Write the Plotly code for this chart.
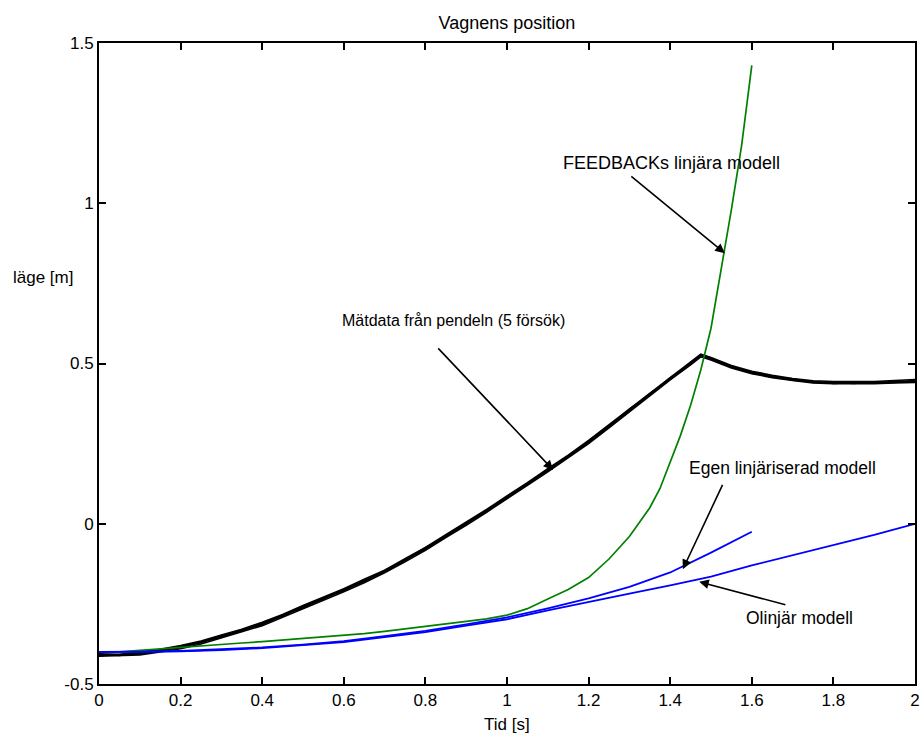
import plotly.graph_objects as go

# ---- data ----
t_meas = [0, 0.05, 0.1, 0.15, 0.2, 0.25, 0.3, 0.35, 0.4, 0.45, 0.5, 0.55, 0.6, 0.65,
          0.7, 0.75, 0.8, 0.85, 0.9, 0.95, 1.0, 1.05, 1.1, 1.15, 1.2, 1.25, 1.3, 1.35,
          1.4, 1.45, 1.475, 1.5, 1.55, 1.6, 1.65, 1.7, 1.75, 1.8, 1.85, 1.9, 1.95, 2.0]
trial1 = [-0.410, -0.410, -0.405, -0.396, -0.385, -0.370, -0.352, -0.333, -0.313, -0.287,
          -0.260, -0.234, -0.207, -0.179, -0.149, -0.114, -0.078, -0.039, 0.000, 0.041,
          0.082, 0.124, 0.167, 0.210, 0.255, 0.304, 0.355, 0.404, 0.453, 0.500,
          0.525, 0.515, 0.490, 0.472, 0.460, 0.450, 0.442, 0.440, 0.439, 0.440,
          0.442, 0.445]
trial2 = [-0.406, -0.407, -0.400, -0.392, -0.380, -0.366, -0.347, -0.329, -0.307, -0.283,
          -0.255, -0.229, -0.203, -0.173, -0.145, -0.109, -0.074, -0.034, 0.005, 0.045,
          0.087, 0.128, 0.172, 0.214, 0.260, 0.309, 0.359, 0.409, 0.457, 0.505,
          0.529, 0.519, 0.494, 0.476, 0.463, 0.453, 0.446, 0.444, 0.443, 0.444,
          0.447, 0.450]
trial3 = [-0.413, -0.412, -0.409, -0.400, -0.390, -0.375, -0.357, -0.337, -0.318, -0.292,
          -0.265, -0.238, -0.212, -0.184, -0.153, -0.119, -0.083, -0.043, -0.005, 0.036,
          0.077, 0.120, 0.162, 0.205, 0.250, 0.299, 0.350, 0.399, 0.449, 0.496,
          0.521, 0.511, 0.486, 0.468, 0.456, 0.447, 0.439, 0.437, 0.436, 0.437,
          0.439, 0.441]
trial4 = [-0.408, -0.411, -0.403, -0.397, -0.382, -0.371, -0.349, -0.334, -0.310, -0.288,
          -0.257, -0.235, -0.204, -0.180, -0.146, -0.115, -0.075, -0.040, 0.003, 0.040,
          0.085, 0.123, 0.170, 0.209, 0.258, 0.303, 0.358, 0.403, 0.456, 0.499,
          0.527, 0.517, 0.488, 0.474, 0.458, 0.452, 0.441, 0.442, 0.438, 0.442,
          0.441, 0.447]
trial5 = [-0.411, -0.408, -0.406, -0.394, -0.387, -0.368, -0.354, -0.331, -0.315, -0.285,
          -0.262, -0.232, -0.209, -0.177, -0.151, -0.112, -0.080, -0.037, -0.002, 0.043,
          0.080, 0.126, 0.165, 0.212, 0.253, 0.306, 0.353, 0.406, 0.451, 0.502,
          0.523, 0.513, 0.492, 0.470, 0.461, 0.448, 0.444, 0.438, 0.440, 0.439,
          0.444, 0.443]

t_fb = [0, 0.05, 0.1, 0.15, 0.2, 0.25, 0.3, 0.35, 0.4, 0.45, 0.5, 0.55, 0.6, 0.65,
        0.7, 0.75, 0.8, 0.85, 0.9, 0.95, 1.0, 1.05, 1.1, 1.15, 1.2, 1.25, 1.3,
        1.35, 1.375, 1.4, 1.425, 1.45, 1.475, 1.5, 1.525, 1.55, 1.575, 1.6]
y_fb = [-0.400, -0.400, -0.395, -0.390, -0.385, -0.380, -0.375, -0.372, -0.368, -0.363,
        -0.358, -0.354, -0.350, -0.343, -0.336, -0.328, -0.320, -0.312, -0.305, -0.297,
        -0.285, -0.265, -0.235, -0.205, -0.168, -0.110, -0.040, 0.050, 0.110, 0.190,
        0.275, 0.370, 0.480, 0.610, 0.790, 0.980, 1.180, 1.430]

t_egen = [0, 0.1, 0.2, 0.3, 0.4, 0.5, 0.6, 0.7, 0.8, 0.9, 1.0, 1.1, 1.2, 1.3, 1.4, 1.5, 1.6]
y_egen = [-0.400, -0.400, -0.397, -0.392, -0.386, -0.377, -0.366, -0.351, -0.334, -0.314,
          -0.292, -0.264, -0.233, -0.197, -0.152, -0.090, -0.025]

t_olin = [0, 0.1, 0.2, 0.3, 0.4, 0.5, 0.6, 0.7, 0.8, 0.9, 1.0, 1.1, 1.2, 1.3, 1.4,
          1.5, 1.6, 1.7, 1.8, 1.9, 2.0]
y_olin = [-0.400, -0.400, -0.398, -0.394, -0.388, -0.379, -0.369, -0.354, -0.338, -0.318,
          -0.298, -0.270, -0.245, -0.218, -0.192, -0.165, -0.130, -0.098, -0.066, -0.035, 0.0]

x_ticks = [0, 0.2, 0.4, 0.6, 0.8, 1.0, 1.2, 1.4, 1.6, 1.8, 2.0]
x_ticklabels = ["0", "0.2", "0.4", "0.6", "0.8", "1", "1.2", "1.4", "1.6", "1.8", "2"]
y_ticks = [-0.5, 0, 0.5, 1, 1.5]
y_ticklabels = ["-0.5", "0", "0.5", "1", "1.5"]

FONT = "Liberation Sans, Arial, sans-serif"
FS = 17

fig = go.Figure()
for tr in [trial1, trial2, trial3, trial4, trial5]:
    fig.add_trace(go.Scatter(x=t_meas, y=tr, mode="lines",
                             line=dict(color="black", width=1.6), showlegend=False))
fig.add_trace(go.Scatter(x=t_fb, y=y_fb, mode="lines",
                         line=dict(color="#008000", width=1.7), showlegend=False))
fig.add_trace(go.Scatter(x=t_egen, y=y_egen, mode="lines",
                         line=dict(color="#0000ff", width=1.8), showlegend=False))
fig.add_trace(go.Scatter(x=t_olin, y=y_olin, mode="lines",
                         line=dict(color="#0000ff", width=1.8), showlegend=False))

labels = [
    ("Mätdata från pendeln (5 försök)", 0.870, 0.633, 16),
    ("FEEDBACKs linjära modell", 1.402, 1.126, 18),
    ("Egen linjäriserad modell", 1.676, 0.174, 17.5),
    ("Olinjär modell", 1.716, -0.294, 17.5),
]
arrows = [
    (0.828, 0.552, 1.113, 0.168),
    (1.301, 1.088, 1.534, 0.844),
    (1.530, 0.126, 1.431, -0.142),
    (1.686, -0.254, 1.471, -0.181),
]
annotations = []
for txt, x, y, fs in labels:
    annotations.append(dict(x=x, y=y, xref="x", yref="y", text=txt, showarrow=False,
                            xanchor="center", yanchor="middle",
                            font=dict(family=FONT, size=fs, color="black")))
for x0, y0, x1, y1 in arrows:
    annotations.append(dict(x=x1, y=y1, ax=x0, ay=y0, xref="x", yref="y",
                            axref="x", ayref="y", text="", showarrow=True,
                            arrowhead=2, arrowsize=1.2, arrowwidth=1.6,
                            arrowcolor="black", standoff=0, startstandoff=0))
annotations.append(dict(x=0.5, y=0, xref="paper", yref="paper", yshift=-40,
                        text="Tid [s]", showarrow=False, xanchor="center",
                        yanchor="middle", font=dict(family=FONT, size=FS, color="black")))
annotations.append(dict(x=0, y=0.767, xref="paper", yref="y", xshift=-56,
                        text="läge [m]", showarrow=False, xanchor="center",
                        yanchor="middle", font=dict(family=FONT, size=FS, color="black")))

axis_common = dict(showline=True, linecolor="black", linewidth=2, mirror="ticks",
                   ticks="inside", ticklen=7, tickwidth=2, tickcolor="black",
                   showgrid=False, zeroline=False, fixedrange=True, automargin=False,
                   ticklabeloverflow="allow",
                   tickfont=dict(family=FONT, size=FS, color="black"))

fig.update_layout(
    width=922, height=735,
    margin=dict(l=99, r=7, t=43, b=51, autoexpand=False),
    paper_bgcolor="white", plot_bgcolor="white",
    font=dict(family=FONT, size=FS, color="black"),
    title=dict(text="Vagnens position", x=0.5, xref="paper", y=1 - 23 / 735,
               yref="container", xanchor="center", yanchor="middle", automargin=False,
               font=dict(family=FONT, size=18, color="black")),
    annotations=annotations,
    xaxis=dict(range=[0, 2], tickvals=x_ticks, ticktext=x_ticklabels, **axis_common),
    yaxis=dict(range=[-0.5, 1.5], tickvals=y_ticks, ticktext=y_ticklabels, **axis_common),
)

fig.write_html("out.html", config={"displayModeBar": False})

# remove the default page margin so the figure sits at the window's top-left corner
with open("out.html", "r", encoding="utf-8") as f:
    html = f.read()
html = html.replace("<head>", "<head><style>html,body{margin:0;padding:0;overflow:hidden;}</style>", 1)
with open("out.html", "w", encoding="utf-8") as f:
    f.write(html)
